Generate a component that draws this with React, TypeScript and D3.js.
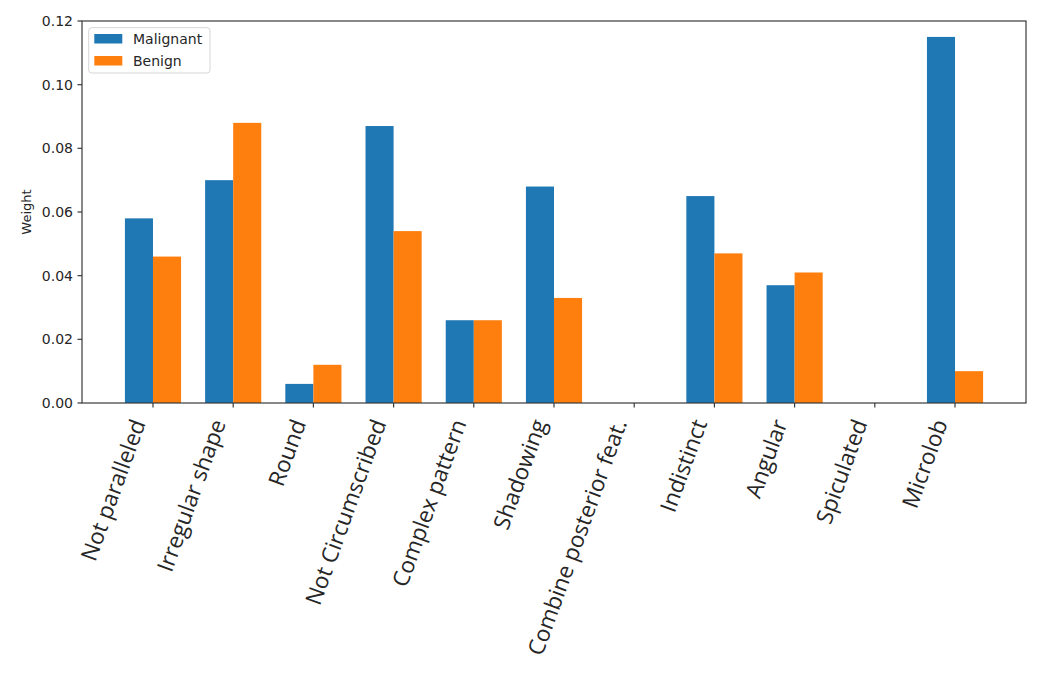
import React, { useEffect, useRef } from "react";
import * as d3 from "d3";

const categories = [
  "Not paralleled",
  "Irregular shape",
  "Round",
  "Not Circumscribed",
  "Complex pattern",
  "Shadowing",
  "Combine posterior feat.",
  "Indistinct",
  "Angular",
  "Spiculated",
  "Microlob",
];
const malignant = [0.058, 0.07, 0.006, 0.087, 0.026, 0.068, 0, 0.065, 0.037, 0, 0.115];
const benign = [0.046, 0.088, 0.012, 0.054, 0.026, 0.033, 0, 0.047, 0.041, 0, 0.01];
const yTicks = [0, 0.02, 0.04, 0.06, 0.08, 0.1, 0.12];
const seriesNames = ["Malignant", "Benign"];
const colors = ["#1f77b4", "#ff7f0e"];

const W = 1050;
const H = 676;
const M = { left: 82, right: 1026, top: 21, bottom: 403 };
const barW = 0.35;

export default function App() {
  const ref = useRef<SVGSVGElement>(null);

  useEffect(() => {
    const svg = d3.select(ref.current);
    svg.selectAll("*").remove();
    const font = "DejaVu Sans, sans-serif";
    const labelFont = "Open Sans, sans-serif";

    const x = d3
      .scaleLinear()
      .domain([-0.885, categories.length - 1 + 0.885])
      .range([M.left, M.right]);
    const y = d3.scaleLinear().domain([0, 0.12]).range([M.bottom, M.top]);

    const g = svg.append("g");

    // bars
    const series = [malignant, benign];
    series.forEach((vals, si) => {
      g.selectAll(null)
        .data(vals)
        .enter()
        .append("rect")
        .attr("x", (_d, i) => x(i + (si === 0 ? -barW : 0)))
        .attr("width", (_d, i) => x(i + barW) - x(i))
        .attr("y", (d) => y(d))
        .attr("height", (d) => y(0) - y(d))
        .attr("fill", colors[si]);
    });

    // frame
    g.append("rect")
      .attr("x", M.left)
      .attr("y", M.top)
      .attr("width", M.right - M.left)
      .attr("height", M.bottom - M.top)
      .attr("fill", "none")
      .attr("stroke", "#3a3a3a")
      .attr("stroke-width", 1.2);

    // y axis ticks
    yTicks.forEach((t) => {
      g.append("line")
        .attr("x1", M.left - 4.5)
        .attr("x2", M.left)
        .attr("y1", y(t))
        .attr("y2", y(t))
        .attr("stroke", "#3a3a3a")
        .attr("stroke-width", 1.2);
      g.append("text")
        .attr("x", M.left - 9)
        .attr("y", y(t))
        .attr("dy", "0.36em")
        .attr("text-anchor", "end")
        .attr("font-family", font)
        .attr("font-size", 14)
        .attr("fill", "#262626")
        .text(d3.format(".2f")(t));
    });

    // x ticks and labels
    categories.forEach((c, i) => {
      const tx = x(i);
      g.append("line")
        .attr("x1", tx)
        .attr("x2", tx)
        .attr("y1", M.bottom)
        .attr("y2", M.bottom + 4.5)
        .attr("stroke", "#3a3a3a")
        .attr("stroke-width", 1.2);
      g.append("text")
        .attr("transform", `translate(${tx - 7},${423}) rotate(-70)`)
        .attr("text-anchor", "end")
        .attr("font-family", labelFont)
        .attr("font-size", 22.5)
        .attr("fill", "#262626")
        .text(c);
    });

    // y label
    g.append("text")
      .attr("transform", `translate(${31},${(M.top + M.bottom) / 2}) rotate(-90)`)
      .attr("text-anchor", "middle")
      .attr("font-family", font)
      .attr("font-size", 13)
      .attr("fill", "#262626")
      .text("Weight");

    // legend
    const lg = g.append("g");
    lg.append("rect")
      .attr("x", 88.7)
      .attr("y", 27.7)
      .attr("width", 121.3)
      .attr("height", 45.3)
      .attr("rx", 3)
      .attr("fill", "white")
      .attr("fill-opacity", 0.8)
      .attr("stroke", "#d6d6d6");
    seriesNames.forEach((n, i) => {
      const cy = 38.5 + i * 22;
      lg.append("rect")
        .attr("x", 94.3)
        .attr("y", cy - 4.5)
        .attr("width", 28)
        .attr("height", 9.5)
        .attr("fill", colors[i]);
      lg.append("text")
        .attr("x", 133)
        .attr("y", cy)
        .attr("dy", "0.36em")
        .attr("font-family", font)
        .attr("font-size", 14)
        .attr("fill", "#262626")
        .text(n);
    });
  }, []);

  return (
    <svg
      ref={ref}
      width={W}
      height={H}
      style={{ position: "absolute", left: 0, top: 0, background: "white" }}
    />
  );
}
